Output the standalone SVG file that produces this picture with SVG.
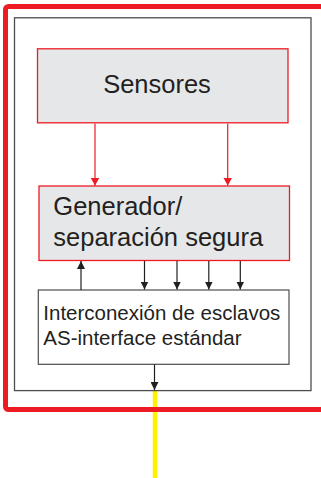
<svg xmlns="http://www.w3.org/2000/svg" width="321" height="478" viewBox="0 0 321 478">
<style>
.lbl{font-family:"Liberation Sans",Arial,sans-serif;fill:#231f20}
.red{stroke:#ed1c24;stroke-width:1.2;fill:none}
.blk{stroke:#231f20;stroke-width:1.2;fill:none}
</style>
<defs>
<marker id="ar" viewBox="0 0 8 9" refX="8" refY="4.5" markerWidth="8" markerHeight="9" markerUnits="userSpaceOnUse" orient="auto"><path d="M0,0 L8,4.5 L0,9 Z" fill="#ed1c24"/></marker>
<marker id="ab" viewBox="0 0 8 8" refX="8" refY="4" markerWidth="8" markerHeight="8" markerUnits="userSpaceOnUse" orient="auto"><path d="M0,0 L8,4 L0,8 Z" fill="#231f20"/></marker>
</defs>
<rect width="321" height="478" fill="#ffffff"/>
<g id="bus">
<line x1="155" y1="391" x2="155" y2="478" stroke="#fff200" stroke-width="4.5"/>
</g>
<g id="safety-frame">
<rect x="5.5" y="6.5" width="318" height="403" rx="3" fill="none" stroke="#ed1c24" stroke-width="5"/>
</g>
<g id="module-frame">
<rect x="14.5" y="17.8" width="296.5" height="372.8" fill="none" stroke="#4d4d4f" stroke-width="1.3"/>
</g>
<g id="sensores">
<rect x="37.5" y="48.8" width="250.5" height="74" fill="#e6e7e8" stroke="#ed1c24" stroke-width="1.3"/>
<text class="lbl" x="157" y="92.5" font-size="25.5" text-anchor="middle">Sensores</text>
</g>
<g id="generador">
<rect x="39" y="186" width="250.5" height="74.5" fill="#e6e7e8" stroke="#ed1c24" stroke-width="1.3"/>
<text class="lbl" x="53.3" y="215" font-size="25.5">Generador/</text>
<text class="lbl" x="53.3" y="246" font-size="25.5">separación segura</text>
</g>
<g id="interconexion">
<rect x="38.3" y="290" width="250.7" height="74.3" fill="#ffffff" stroke="#4d4d4f" stroke-width="1.2"/>
<text class="lbl" x="43.3" y="320.3" font-size="20.5">Interconexión de esclavos</text>
<text class="lbl" x="43.3" y="344.5" font-size="20.5">AS-interface estándar</text>
</g>
<g id="connectors">
<line class="red" x1="95" y1="123.5" x2="95" y2="185.5" marker-end="url(#ar)"/>
<line class="red" x1="227.7" y1="123.5" x2="227.7" y2="185.5" marker-end="url(#ar)"/>
<line class="blk" x1="81" y1="290" x2="81" y2="261" marker-end="url(#ab)"/>
<line class="blk" x1="144.5" y1="261" x2="144.5" y2="289.5" marker-end="url(#ab)"/>
<line class="blk" x1="177" y1="261" x2="177" y2="289.5" marker-end="url(#ab)"/>
<line class="blk" x1="208.8" y1="261" x2="208.8" y2="289.5" marker-end="url(#ab)"/>
<line class="blk" x1="240.3" y1="261" x2="240.3" y2="289.5" marker-end="url(#ab)"/>
<line class="blk" x1="154.5" y1="364.5" x2="154.5" y2="390" marker-end="url(#ab)"/>
</g>
</svg>
